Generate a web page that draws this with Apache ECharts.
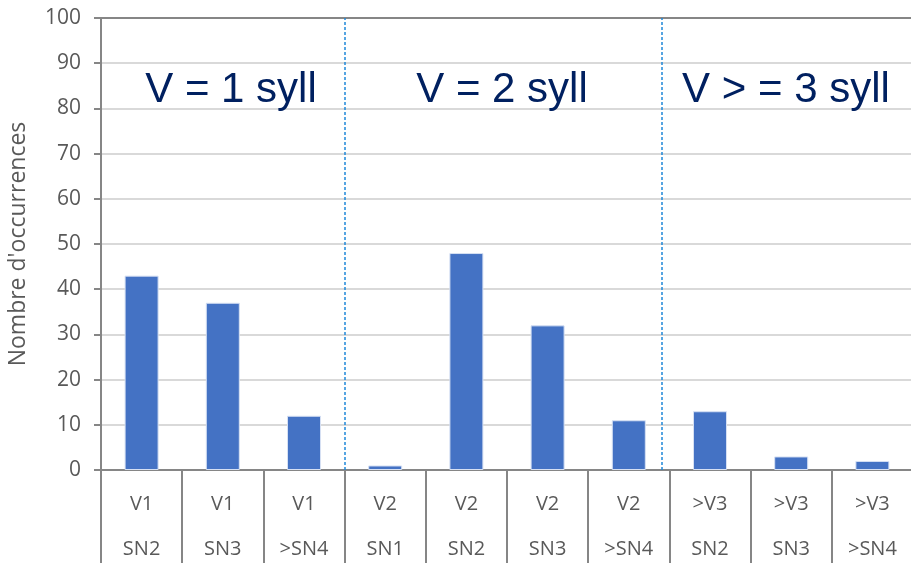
<!DOCTYPE html>
<html>
<head>
<meta charset="utf-8">
<script src="https://cdn.jsdelivr.net/npm/echarts@6/dist/echarts.min.js"></script>
<style>html,body{margin:0;padding:0;background:#fff}#c{width:911px;height:563px}</style>
</head>
<body>
<div id="c"></div>
<script>
const verbLevels = ['V1','V1','V1','V2','V2','V2','V2','>V3','>V3','>V3'];
const snLevels = ['SN2','SN3','>SN4','SN1','SN2','SN3','>SN4','SN2','SN3','>SN4'];
const values = [43,37,12,1,48,32,11,13,3,2];
const groupLabels = ['V = 1 syll','V = 2 syll','V > = 3 syll'];
const groupDividers = [3, 6.9];
const yTicks = [0,10,20,30,40,50,60,70,80,90,100];

const categories = verbLevels.map((v,i)=>v+'\n'+snLevels[i]);
const gray = '#868686';
const txt = '#595959';
const font = 'Open Sans';

const chart = echarts.init(document.getElementById('c'), null, {renderer:'canvas'});
chart.setOption({
  animation:false,
  backgroundColor:'#fff',
  grid:{left:101,right:-2,top:18,bottom:93,containLabel:false,outerBoundsMode:'none'},
  xAxis:[{
    type:'category', data:categories, boundaryGap:true,
    axisLine:{show:true,lineStyle:{color:gray,width:2}},
    axisTick:{show:true,interval:0,length:93,lineStyle:{color:gray,width:2}},
    axisLabel:{interval:0,margin:12,color:txt,fontFamily:font,fontSize:20,lineHeight:45},
    splitLine:{show:false}
  },{
    type:'value', min:0, max:10, position:'top',
    axisLine:{show:true,onZero:false,lineStyle:{color:gray,width:2}},
    axisTick:{show:false},axisLabel:{show:false},splitLine:{show:false}
  }],
  yAxis:{
    type:'value', min:yTicks[0], max:yTicks[yTicks.length-1], interval:10,
    name:"Nombre d'occurrences", nameLocation:'middle', nameGap:71,
    nameTextStyle:{color:txt,fontFamily:font,fontSize:23},
    axisLine:{show:true,lineStyle:{color:gray,width:2}},
    axisTick:{show:true,length:7,lineStyle:{color:gray,width:2}},
    axisLabel:{color:txt,fontFamily:font,fontSize:21,margin:20},
    splitLine:{show:true,lineStyle:{color:'#d9d9d9',width:2}}
  },
  series:[{
    type:'bar', data:values, barWidth:34, xAxisIndex:0,
    itemStyle:{color:'#4472C4',borderColor:'#d6e0f3',borderWidth:1}
  },{
    type:'line', data:[], xAxisIndex:1,
    markLine:{
      silent:true, symbol:['none','none'], label:{show:false},
      lineStyle:{type:[3,2],color:'#1f88d9',width:1.5},
      data:groupDividers.map(x=>({xAxis:x}))
    }
  }]
});

const centers = [231, 502, 786];
chart.setOption({
  graphic: groupLabels.map((t,i)=>({
    type:'text', x:centers[i], y:90,
    style:{text:t, fill:'#002060', font:'42px "Liberation Sans", Arial, sans-serif', align:'center', verticalAlign:'middle'}
  }))
});
</script>
</body>
</html>
